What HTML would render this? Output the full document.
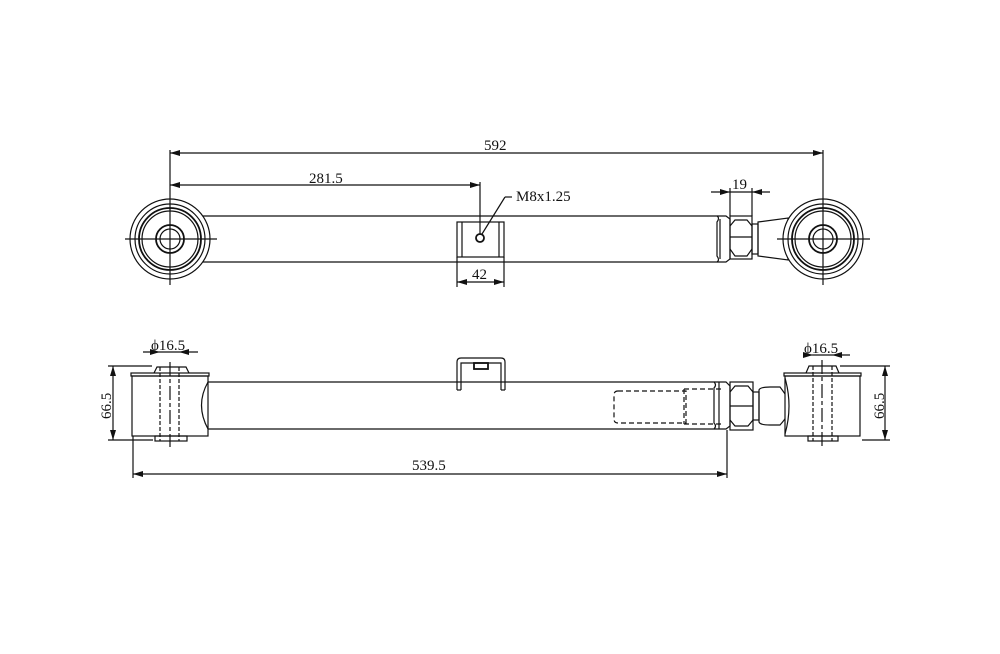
<!DOCTYPE html>
<html><head><meta charset="utf-8"><style>
html,body{margin:0;padding:0;background:#fff;}
svg text{font-family:"Liberation Serif",serif;font-size:15px;fill:#111;}
</style></head><body>
<svg width="1000" height="649" viewBox="0 0 1000 649" xmlns="http://www.w3.org/2000/svg">
<defs>
<marker id="a" viewBox="0 0 10 6" refX="10" refY="3" markerWidth="10" markerHeight="6" orient="auto-start-reverse" markerUnits="userSpaceOnUse"><path d="M0,0L10,3L0,6z" fill="#111"/></marker>
</defs>
<g stroke="#111" fill="none" stroke-width="1.2">
<!-- TOP VIEW -->
<line x1="203" y1="216" x2="713" y2="216"/>
<line x1="203" y1="262" x2="713" y2="262"/>
<circle cx="170" cy="239" r="40" fill="#fff"/>
<circle cx="170" cy="239" r="35"/>
<circle cx="170" cy="239" r="31" stroke-width="1.8"/>
<circle cx="170" cy="239" r="28"/>
<circle cx="170" cy="239" r="14" stroke-width="1.8"/>
<circle cx="170" cy="239" r="10"/>
<line x1="125" y1="239" x2="217" y2="239"/>
<line x1="170" y1="195" x2="170" y2="285"/>
<rect x="457" y="222" width="47" height="35"/>
<line x1="462" y1="222" x2="462" y2="257"/>
<line x1="499" y1="222" x2="499" y2="257"/>
<circle cx="480" cy="238" r="4" stroke-width="1.8"/>
<line x1="482" y1="234" x2="505" y2="197"/>
<line x1="505" y1="197" x2="512" y2="197"/>
<path d="M713,216 L717,216 Q720,218 717,222 L717,256 Q720,260 717,262 L713,262"/>
<path d="M717,216 L726,216 L730,219 L730,259 L726,262 L717,262"/>
<line x1="720" y1="219" x2="720" y2="259"/>
<rect x="730" y="216" width="22" height="43"/>
<path d="M730,226 L735,220 L747,220 L752,226 M730,249 L735,256 L747,256 L752,249 M730,237 L752,237"/>
<rect x="752" y="224" width="6" height="30"/>
<path d="M758,222 L788,218 L788,260 L758,256 Z"/>
<circle cx="823" cy="239" r="40" fill="#fff"/>
<circle cx="823" cy="239" r="35"/>
<circle cx="823" cy="239" r="31" stroke-width="1.8"/>
<circle cx="823" cy="239" r="28"/>
<circle cx="823" cy="239" r="14" stroke-width="1.8"/>
<circle cx="823" cy="239" r="10"/>
<line x1="777" y1="239" x2="870" y2="239"/>
<line x1="823" y1="195" x2="823" y2="285"/>
<line x1="170" y1="150" x2="170" y2="195"/>
<line x1="823" y1="150" x2="823" y2="195"/>
<line x1="170" y1="153" x2="823" y2="153" marker-start="url(#a)" marker-end="url(#a)"/>
<line x1="480" y1="182" x2="480" y2="234"/>
<line x1="170" y1="185" x2="480" y2="185" marker-start="url(#a)" marker-end="url(#a)"/>
<line x1="457" y1="257" x2="457" y2="287"/>
<line x1="504" y1="257" x2="504" y2="287"/>
<line x1="457" y1="282" x2="504" y2="282" marker-start="url(#a)" marker-end="url(#a)"/>
<line x1="730" y1="188" x2="730" y2="216"/>
<line x1="752" y1="188" x2="752" y2="216"/>
<line x1="711" y1="192" x2="730" y2="192" marker-end="url(#a)"/>
<line x1="770" y1="192" x2="752" y2="192" marker-end="url(#a)"/>
<line x1="730" y1="192" x2="752" y2="192"/>

<!-- BOTTOM VIEW -->
<line x1="208" y1="382" x2="710" y2="382"/>
<line x1="208" y1="429" x2="710" y2="429"/>
<path d="M208,382 Q195,405 208,429"/>
<rect x="132" y="376" width="76" height="60"/>
<rect x="131" y="373" width="78" height="3"/>
<path d="M154,373 L157,367 L186,367 L189,373"/>
<rect x="155" y="436" width="32" height="5"/>
<line x1="160" y1="367" x2="160" y2="441" stroke-dasharray="4,2"/>
<line x1="179" y1="367" x2="179" y2="441" stroke-dasharray="4,2"/>
<line x1="170" y1="362" x2="170" y2="447" stroke-dasharray="14,3,4,3"/>
<path d="M457,390 L457,362 Q457,358 461,358 L501,358 Q505,358 505,362 L505,390"/>
<path d="M461,390 L461,363 L501,363 L501,390"/>
<line x1="457" y1="390" x2="461" y2="390"/><line x1="501" y1="390" x2="505" y2="390"/>
<rect x="474" y="363" width="14" height="6" stroke-width="1.8"/>
<path d="M710,382 L714,382 Q717,385 714,388 L714,423 Q717,426 714,429 L710,429"/>
<path d="M714,382 L726,382 L730,386 L730,426 L726,429 L714,429"/>
<line x1="719" y1="382" x2="719" y2="429"/>
<rect x="730" y="382" width="23" height="48"/>
<path d="M730,392 L735,386 L748,386 L753,392 M730,420 L735,426 L748,426 L753,420 M730,406 L753,406"/>
<rect x="753" y="392" width="6" height="28"/>
<path d="M759,390 Q760,387 770,387 L780,387 Q790,400 790,406 Q790,414 780,425 L770,425 Q760,425 759,422 Z"/>
<rect x="785" y="376" width="75" height="60" fill="#fff"/>
<path d="M785,378 Q793,406 785,434" />
<rect x="784" y="373" width="77" height="3"/>
<path d="M806,373 L809,366 L836,366 L839,373"/>
<rect x="808" y="436" width="30" height="5"/>
<line x1="813" y1="366" x2="813" y2="441" stroke-dasharray="4,2"/>
<line x1="832" y1="366" x2="832" y2="441" stroke-dasharray="4,2"/>
<line x1="822" y1="360" x2="822" y2="447" stroke-dasharray="14,3,4,3"/>
<g stroke-dasharray="5,3">
<path d="M618,391 L686,391 L686,423 L618,423 Q614,423 614,419 L614,395 Q614,391 618,391"/>
<path d="M684,389 L722,389 M684,424 L722,424 M684,389 L684,424"/>
</g>
<line x1="133" y1="436" x2="133" y2="478"/>
<line x1="727" y1="430" x2="727" y2="478"/>
<line x1="133" y1="474" x2="727" y2="474" marker-start="url(#a)" marker-end="url(#a)"/>
<line x1="108" y1="366" x2="152" y2="366"/>
<line x1="108" y1="440" x2="153" y2="440"/>
<line x1="113" y1="366" x2="113" y2="440" marker-start="url(#a)" marker-end="url(#a)"/>
<line x1="143" y1="352" x2="160" y2="352" marker-end="url(#a)"/>
<line x1="198" y1="352" x2="179" y2="352" marker-end="url(#a)"/>
<line x1="160" y1="352" x2="179" y2="352"/>
<line x1="840" y1="366" x2="890" y2="366"/>
<line x1="862" y1="440" x2="890" y2="440"/>
<line x1="885" y1="366" x2="885" y2="440" marker-start="url(#a)" marker-end="url(#a)"/>
<line x1="803" y1="355" x2="813" y2="355" marker-end="url(#a)"/>
<line x1="850" y1="355" x2="832" y2="355" marker-end="url(#a)"/>
<line x1="813" y1="355" x2="832" y2="355"/>
</g>
<text x="484" y="150">592</text>
<text x="309" y="183">281.5</text>
<text x="516" y="201">M8x1.25</text>
<text x="472" y="279">42</text>
<text x="732" y="189">19</text>
<text x="151" y="350">ϕ16.5</text>
<text x="804" y="353">ϕ16.5</text>
<text x="412" y="470">539.5</text>
<text transform="translate(111,419) rotate(-90)">66.5</text>
<text transform="translate(884,419) rotate(-90)">66.5</text>
</svg>
</body></html>
